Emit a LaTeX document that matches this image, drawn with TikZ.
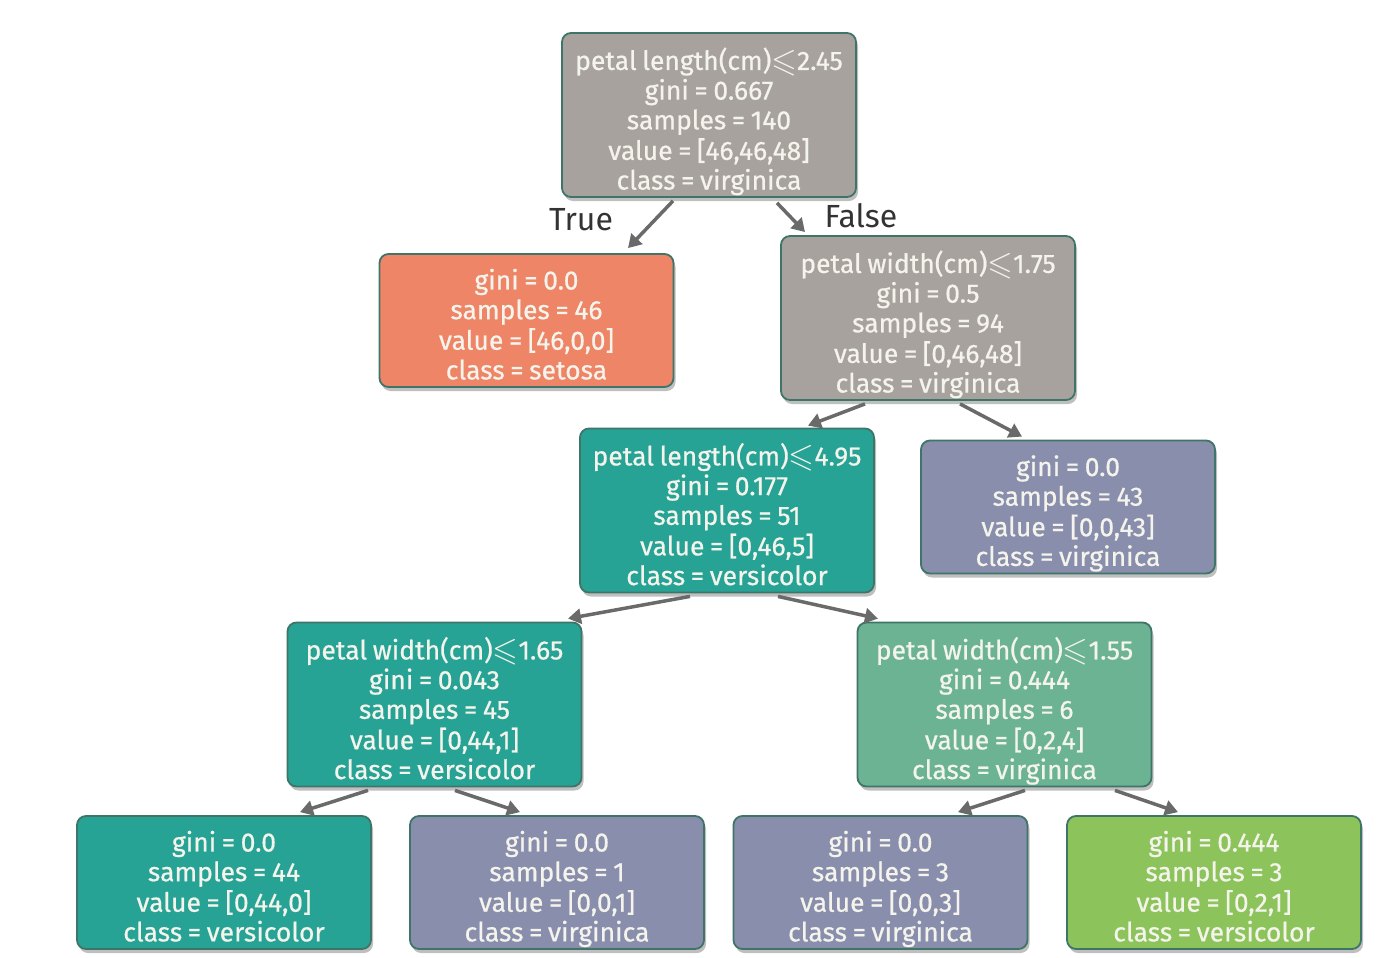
\documentclass[tikz,border=0pt]{standalone}
\usepackage{amssymb}
\usepackage{graphicx}
\usepackage{fontspec}
\setmainfont[WordSpace=0.8]{Fira Sans}
\newfontfamily\boxfont[FakeBold=0.6,WordSpace=0.8]{Fira Sans}
\usetikzlibrary{shadows,arrows.meta}
\definecolor{cgray}{HTML}{A8A29E}
\definecolor{corange}{HTML}{EE8566}
\definecolor{cteal}{HTML}{27A396}
\definecolor{clav}{HTML}{8A8EAD}
\definecolor{cmint}{HTML}{6BB393}
\definecolor{cgreen}{HTML}{8DC35B}
\definecolor{cborder}{HTML}{3F7469}
\definecolor{ctext}{HTML}{F4F4EC}
\definecolor{cedge}{HTML}{6A6A6A}
\newcommand{\leqs}{\raisebox{-1.5pt}{\scalebox{1.25}{\(\leqslant\)}}}
\newcommand{\tx}[1]{\raisebox{-8pt}[\height][\depth]{\begin{tabular}{@{}c@{}}#1\end{tabular}}}
\tikzset{
  tbox/.style={draw=cborder, line width=1.8pt, rounded corners=9pt, align=center,
    text=ctext, font=\boxfont\fontsize{26.5}{29.7}\selectfont, inner sep=0pt,
    minimum width=294pt, minimum height=164pt,
    drop shadow={shadow xshift=2pt, shadow yshift=-4pt, opacity=0.25, fill=black}},
  leaf/.style={tbox, minimum height=133pt},
  edge/.style={draw=cedge, line width=3.5pt, -{Triangle[length=13pt,width=15pt]}},
  lbl/.style={text=black!80, font=\fontsize{32}{34}\selectfont}
}
\begin{document}
\begin{tikzpicture}[x=1pt,y=-1pt]
\useasboundingbox (0,0) rectangle (1400,958);
\node[tbox, fill=cgray] (root) at (709,115) {\tx{petal length(cm)\leqs2.45\\gini = 0.667\\samples = 140\\value = [46,46,48]\\class = virginica}};
\node[leaf, fill=corange] (setosa) at (526.5,320.5) {\tx{gini = 0.0\\samples = 46\\value = [46,0,0]\\class = setosa}};
\node[tbox, fill=cgray] (n2) at (928,318) {\tx{petal width(cm)\leqs1.75\\gini = 0.5\\samples = 94\\value = [0,46,48]\\class = virginica}};
\node[tbox, fill=cteal] (n3) at (727,510.5) {\tx{petal length(cm)\leqs4.95\\gini = 0.177\\samples = 51\\value = [0,46,5]\\class = versicolor}};
\node[leaf, fill=clav] (n4) at (1068,507) {\tx{gini = 0.0\\samples = 43\\value = [0,0,43]\\class = virginica}};
\node[tbox, fill=cteal] (n5) at (434.5,704.5) {\tx{petal width(cm)\leqs1.65\\gini = 0.043\\samples = 45\\value = [0,44,1]\\class = versicolor}};
\node[tbox, fill=cmint] (n6) at (1004.5,704.5) {\tx{petal width(cm)\leqs1.55\\gini = 0.444\\samples = 6\\value = [0,2,4]\\class = virginica}};
\node[leaf, fill=cteal] (l1) at (224,882.5) {\tx{gini = 0.0\\samples = 44\\value = [0,44,0]\\class = versicolor}};
\node[leaf, fill=clav] (l2) at (557,882.5) {\tx{gini = 0.0\\samples = 1\\value = [0,0,1]\\class = virginica}};
\node[leaf, fill=clav] (l3) at (880.5,882.5) {\tx{gini = 0.0\\samples = 3\\value = [0,0,3]\\class = virginica}};
\node[leaf, fill=cgreen] (l4) at (1214,882.5) {\tx{gini = 0.444\\samples = 3\\value = [0,2,1]\\class = versicolor}};
\node[lbl] (ltrue) at (581,220) {True};
\node[lbl] (lfalse) at (861,216) {False};
\draw[edge] ([xshift=-36pt,yshift=-3pt]root.south) -- ([xshift=101.5pt,yshift=5pt]setosa.north);
\draw[edge] ([xshift=68pt,yshift=-5pt]root.south) -- ([xshift=-123pt,yshift=3pt]n2.north);
\draw[edge] ([xshift=-63pt,yshift=-3pt]n2.south) -- ([xshift=81pt,yshift=2pt]n3.north);
\draw[edge] ([xshift=32pt,yshift=-3pt]n2.south) -- ([xshift=-46pt,yshift=3pt]n4.north);
\draw[edge] ([xshift=-37pt,yshift=-3pt]n3.south) -- ([xshift=133.5pt,yshift=3pt]n5.north);
\draw[edge] ([xshift=51pt,yshift=-3pt]n3.south) -- ([xshift=-126.5pt,yshift=3pt]n6.north);
\draw[edge] ([xshift=-66.5pt,yshift=-3pt]n5.south) -- ([xshift=76pt,yshift=3pt]l1.north);
\draw[edge] ([xshift=20.5pt,yshift=-3pt]n5.south) -- ([xshift=-37pt,yshift=3pt]l2.north);
\draw[edge] ([xshift=20.5pt,yshift=-3pt]n6.south) -- ([xshift=77.5pt,yshift=3pt]l3.north);
\draw[edge] ([xshift=110.5pt,yshift=-3pt]n6.south) -- ([xshift=-36pt,yshift=3pt]l4.north);
\end{tikzpicture}
\end{document}
